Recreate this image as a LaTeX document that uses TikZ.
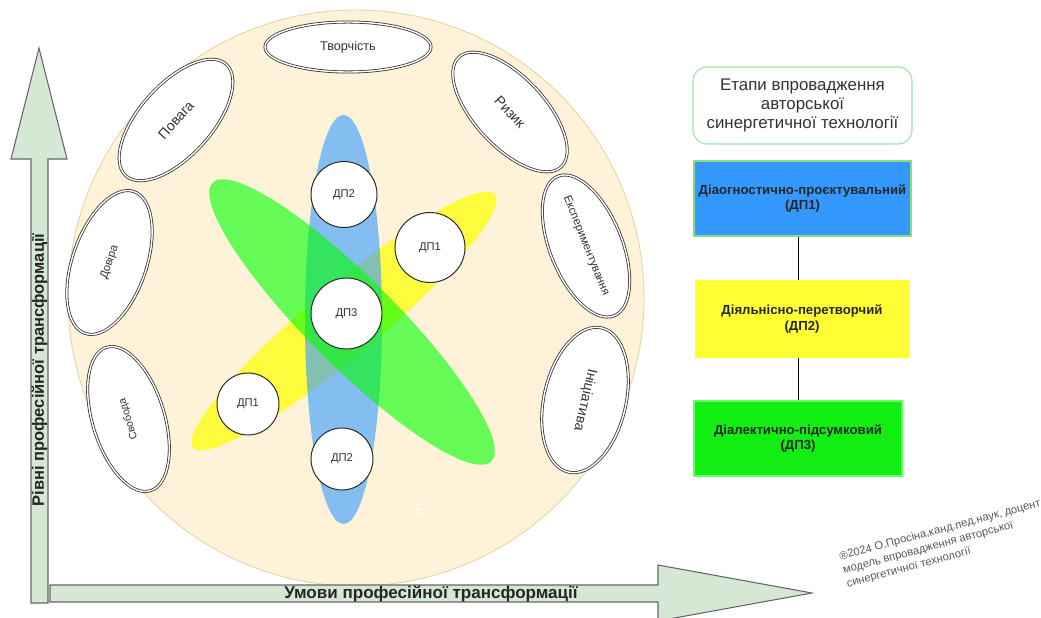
\documentclass[tikz,border=0pt]{standalone}
\usepackage{fontspec}
\setmainfont{Liberation Sans}
\usetikzlibrary{shapes.geometric}

\definecolor{cream}{HTML}{FEF3D8}
\definecolor{creamedge}{HTML}{E6D4A2}
\definecolor{axisfill}{HTML}{D5E8D4}
\definecolor{axisedge}{HTML}{666666}
\definecolor{dpblue}{HTML}{3399FF}
\definecolor{dpyellow}{HTML}{FFFF00}
\definecolor{dpgreen}{HTML}{00FF00}
\definecolor{boxyellow}{HTML}{FFFF33}
\definecolor{boxgreen}{HTML}{12EE12}
\definecolor{titleedge}{HTML}{99E6A3}
\definecolor{blueedge}{HTML}{82E082}
\definecolor{greenedge}{HTML}{66FF66}
\definecolor{inktext}{HTML}{333333}

\newcommand{\fs}[2]{\fontsize{#1}{#2}\selectfont}

\begin{document}
\begin{tikzpicture}[x=0.02cm, y=-0.02cm,
  value/.style={ellipse, draw=black!80, double=white, double distance=0.8pt,
    line width=0.45pt, fill=white, inner sep=0pt, text=inktext},
  dpcircle/.style={circle, draw=black!85, fill=white, line width=0.55pt,
    inner sep=0pt, text=inktext, font=\fs{6.4}{7.7}},
  stagebox/.style={rectangle, line width=0.8pt, inner sep=0pt, align=center,
    font=\bfseries\fs{7.5}{9}, text=black!85},
  axislabel/.style={font=\bfseries\fs{9.4}{11}, text=black!85, inner sep=0pt}]
\def\px#1{#1*0.02cm}

\useasboundingbox (0,0) rectangle (1041,618);
\clip (0,0) rectangle (1041,618);

% big circle
\filldraw[fill=cream, draw=creamedge, line width=0.5pt] (356,298) circle (288);

% axes
\filldraw[fill=axisfill, draw=axisedge, line width=0.6pt]
  (31,603) -- (31,159) -- (11,159) -- (39,48) -- (67,159) -- (48,159) -- (48,603) -- cycle;
\filldraw[fill=axisfill, draw=axisedge, line width=0.6pt]
  (50,585) -- (658,585) -- (658,565) -- (812,593) -- (658,621) -- (658,602) -- (50,602) -- cycle;
\node[axislabel, rotate=90] (ylab) at (39.5,370) {Рівні професійної трансформації};
\node[axislabel, font=\bfseries\fs{9.7}{11}] (xlab) at (431,594) {Умови професійної трансформації};

% inner ellipses
\fill[dpyellow, fill opacity=0.72, rotate around={40:(344,321)}] (344,321) ellipse (197 and 35);
\fill[dpblue, fill opacity=0.6] (343.5,319.5) ellipse (38.5 and 204.5);
\fill[dpgreen, fill opacity=0.6, rotate around={-45:(352,322)}] (352,322) ellipse (197 and 44);

% stage circles
\node[dpcircle, minimum size=\px{66}] (dptwotop) at (344,194.5) {ДП2};
\node[dpcircle, minimum size=\px{70}] (dponeright) at (430,247.5) {ДП1};
\node[dpcircle, minimum size=\px{71}] (dpthree) at (346.5,313.5) {ДП3};
\node[dpcircle, minimum size=\px{62}] (dponeleft) at (248,404) {ДП1};
\node[dpcircle, minimum size=\px{62}] (dptwobottom) at (342,459) {ДП2};
\node[text=white, font=\fs{8}{9}, inner sep=0pt] (mark) at (420,510) {E};

% values
\node[value, minimum width=\px{166}, minimum height=\px{50}, font=\fs{7.2}{8.6}] (tvorchist) at (348,47) {Творчість};
\node[value, minimum width=\px{150}, minimum height=\px{70}, rotate=-47, font=\fs{8}{9.6}] (ryzyk) at (510,112) {Ризик};
\node[value, minimum width=\px{124}, minimum height=\px{72}, rotate=-68, font=\fs{6.5}{7.8}] (eksperyment) at (586,246) {Експериментування};
\node[value, minimum width=\px{148}, minimum height=\px{82}, rotate=-103, font=\fs{8}{9.6}] (initsiatyva) at (585,400) {Ініціатива};
\node[value, minimum width=\px{150}, minimum height=\px{72}, rotate=48, font=\fs{8}{9.6}] (povaha) at (176,120) {Повага};
\node[value, minimum width=\px{150}, minimum height=\px{74}, rotate=71, font=\fs{6.4}{7.7}] (dovira) at (109.5,262.5) {Довіра};
\node[value, minimum width=\px{150}, minimum height=\px{72}, rotate=107, font=\fs{6}{7.2}] (svoboda) at (128.5,419) {Свобода};

% stages
\node[rectangle, rounded corners=\px{14}, draw=titleedge, line width=0.6pt, fill=white,
  minimum width=\px{219}, minimum height=\px{77}, align=center, text=inktext,
  font=\fs{9.6}{10.8}, inner sep=0pt] (title) at (802.5,105.5)
  {Етапи впровадження\\авторської\\синергетичної технології};
\node[stagebox, fill=dpblue, draw=blueedge, minimum width=\px{217}, minimum height=\px{75}]
  (diag) at (802.5,198.5) {Діаогностично-проєктувальний\\(ДП1)};
\node[stagebox, fill=boxyellow, draw=boxyellow, minimum width=\px{212}, minimum height=\px{76}]
  (diyal) at (802,319) {Діяльнісно-перетворчий\\(ДП2)};
\node[stagebox, fill=boxgreen, draw=greenedge, minimum width=\px{208}, minimum height=\px{75}]
  (dialekt) at (798,438.5) {Діалектично-підсумковий\\(ДП3)};
\draw[line width=0.5pt] (diag.south -| dialekt) -- (diyal.north -| dialekt);
\draw[line width=0.5pt] (diyal.south -| dialekt) -- (dialekt.north);

% signature
\node[rotate=15, anchor=north west, align=left, inner sep=0pt, text=black!65,
  font=\fs{6.4}{8}] (sign) at (838,552)
  {®2024 О.Просіна,канд.пед.наук, доцент\\модель впровадження авторської\\синергетичної технології};

\end{tikzpicture}
\end{document}
